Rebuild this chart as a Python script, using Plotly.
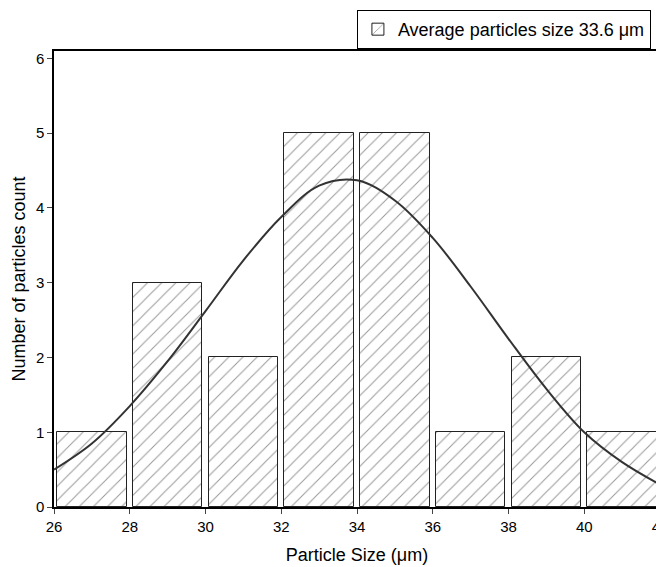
import plotly.graph_objects as go

bin_centers = [27, 29, 31, 33, 35, 37, 39, 41]
counts = [1, 3, 2, 5, 5, 1, 2, 1]

# fitted curve, points
curve_x = [26, 27, 28, 29, 30, 31, 32, 33, 34, 35, 36, 37, 38, 39, 40, 41, 42]
curve_y = [0.5, 0.85, 1.35, 1.95, 2.62, 3.3, 3.88, 4.3, 4.37, 4.1, 3.6, 2.95, 2.25, 1.58, 1.0, 0.6, 0.3]

fig = go.Figure()
fig.add_trace(go.Bar(
    x=bin_centers, y=counts, width=1.84,
    marker=dict(color="white", line=dict(color="#222", width=1),
                pattern=dict(shape="/", fgcolor="#333", size=10, solidity=0.1)),
    name="Average particles size 33.6 \u03bcm",
))
fig.add_trace(go.Scatter(x=curve_x, y=curve_y, mode="lines",
                         line=dict(color="#333", width=2, shape="spline", smoothing=1),
                         showlegend=False))

fig.update_layout(
    width=664, height=567, plot_bgcolor="white", paper_bgcolor="white",
    margin=dict(l=46, r=12, t=40, b=68),
    font=dict(family="Liberation Sans, Arial", size=15, color="black"),
    legend=dict(x=0.985, y=1.09, xanchor="right", yanchor="top", bordercolor="black", borderwidth=1,
                font=dict(size=18)),
    bargap=0,
)
fig.update_xaxes(range=[26, 42], dtick=2, showline=True, linecolor="black", linewidth=1.5, mirror=True,
                 ticks="outside", showgrid=False, title_text="Particle Size (\u03bcm)", zeroline=False,
                 tickfont=dict(size=15))
fig.update_yaxes(range=[0, 6.1], dtick=1, showline=True, linecolor="black", linewidth=1.5, mirror=True,
                 ticks="outside", showgrid=False, title_text="Number of particles count", zeroline=False,
                 title_standoff=6, tickfont=dict(size=15))
fig.update_layout(margin=dict(t=2))
fig.write_html("out.html")
